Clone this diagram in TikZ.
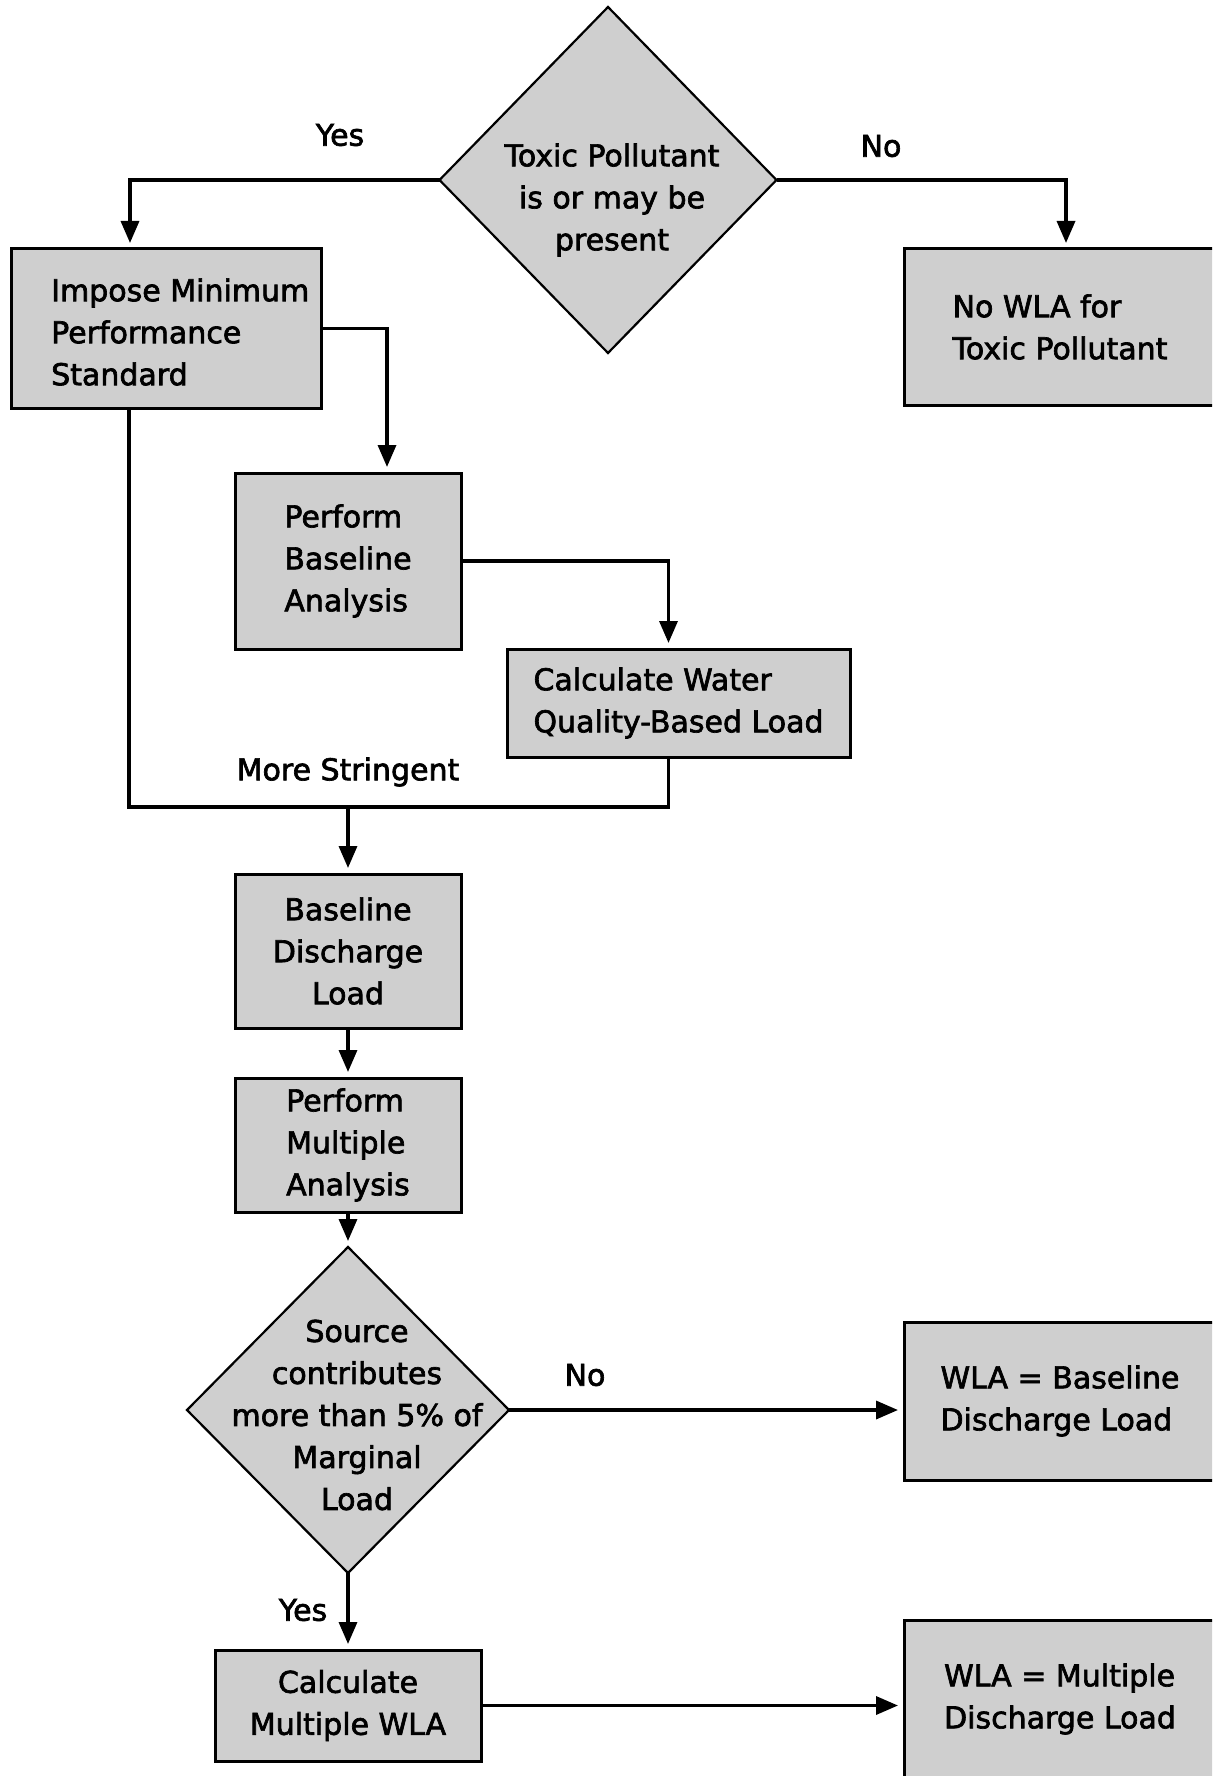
\documentclass[tikz,border=0pt]{standalone}
\usepackage{fontspec}
\setmainfont{DejaVu Sans}[FakeBold=2.2]
\usetikzlibrary{arrows.meta,shapes.geometric,calc}
\begin{document}
\begin{tikzpicture}[x=1pt,y=-1pt,
  every node/.style={font=\fontsize{30}{42}\selectfont},
  box/.style={draw=black,line width=3pt,fill=black!19,inner sep=0pt,outer sep=0pt},
  dia/.style={draw=black,line width=2.2pt,fill=black!19,diamond,inner sep=0pt,outer sep=0pt},
  conn/.style={line width=3.4pt},
  arr/.style={conn,-{Triangle[length=22pt,width=18pt]},shorten >=6pt},
  lbl/.style={inner sep=0pt}
]
\useasboundingbox (0,0) rectangle (1212,1776);
\fill[white] (0,0) rectangle (1212,1776);
\clip (0,0) rectangle (1212,1776);

% decision 1
\node[dia, minimum width=337pt, minimum height=346pt] (d1) at (608,180) {};
\node[lbl, align=center] (d1t) at (612,200) {Toxic Pollutant\\is or may be\\present};

% boxes
\node[box, minimum width=310pt, minimum height=159pt] (b1) at (166,328.5) {};
\node[lbl, align=left, anchor=west] (b1t) at (51,332) {Impose Minimum\\Performance\\Standard};
\node[box, align=left, minimum width=312pt, minimum height=156pt] (nowla) at (1060,327) {No WLA for\\Toxic Pollutant};
\node[box, align=left, minimum width=226pt, minimum height=176pt] (pba) at (348,561) {Perform\\Baseline\\Analysis};
\node[box, align=left, minimum width=343pt, minimum height=108pt] (cwq) at (678.5,703) {Calculate Water\\Quality-Based Load};
\node[box, align=center, minimum width=226pt, minimum height=154pt] (bdl) at (348,951) {Baseline\\Discharge\\Load};
\node[box, align=left, minimum width=226pt, minimum height=134pt] (pma) at (348,1145) {Perform\\Multiple\\Analysis};

% decision 2
\node[dia, minimum width=322pt, minimum height=326pt] (d2) at (348,1410) {};
\node[lbl, align=center] (d2t) at (357,1415) {Source\\contributes\\more than 5\% of\\Marginal\\Load};

\node[box, align=left, minimum width=312pt, minimum height=158pt] (wbl) at (1060,1401) {WLA = Baseline\\Discharge Load};
\node[box, align=center, minimum width=266pt, minimum height=111pt] (cmw) at (348,1705.5) {Calculate\\Multiple WLA};
\node[box, align=left, minimum width=312pt, minimum height=158pt] (wml) at (1060,1699) {WLA = Multiple\\Discharge Load};

% labels
\node[lbl] (yes1) at (340,135) {Yes};
\node[lbl] (no1) at (881,146) {No};
\node[lbl] (ms) at (348,772) {More Stringent};
\node[lbl] (no2) at (585,1375) {No};
\node[lbl] (yes2) at (303,1610) {Yes};

% connectors
\draw[arr] (d1.west) -| ([xshift=-36pt]b1.north);
\draw[arr] (d1.east) -| ([xshift=6pt]nowla.north);
\draw[arr] (b1.east) -| ([xshift=39pt]pba.north);
\draw[arr] (pba.east) -| ([xshift=-10pt]cwq.north);
\coordinate (join) at (668.5,807);
\draw[conn] ([xshift=-37pt]b1.south) |- (join) -- ([xshift=-10pt]cwq.south);
\draw[arr] (bdl.north |- join) -- (bdl.north);
\draw[arr] (bdl.south) -- (pma.north);
\draw[arr] (pma.south) -- (d2.north);
\draw[arr] (d2.east) -- (wbl.west |- d2.east);
\draw[arr] (d2.south) -- (cmw.north);
\draw[arr] (cmw.east) -- (wml.west |- cmw.east);
\end{tikzpicture}
\end{document}
